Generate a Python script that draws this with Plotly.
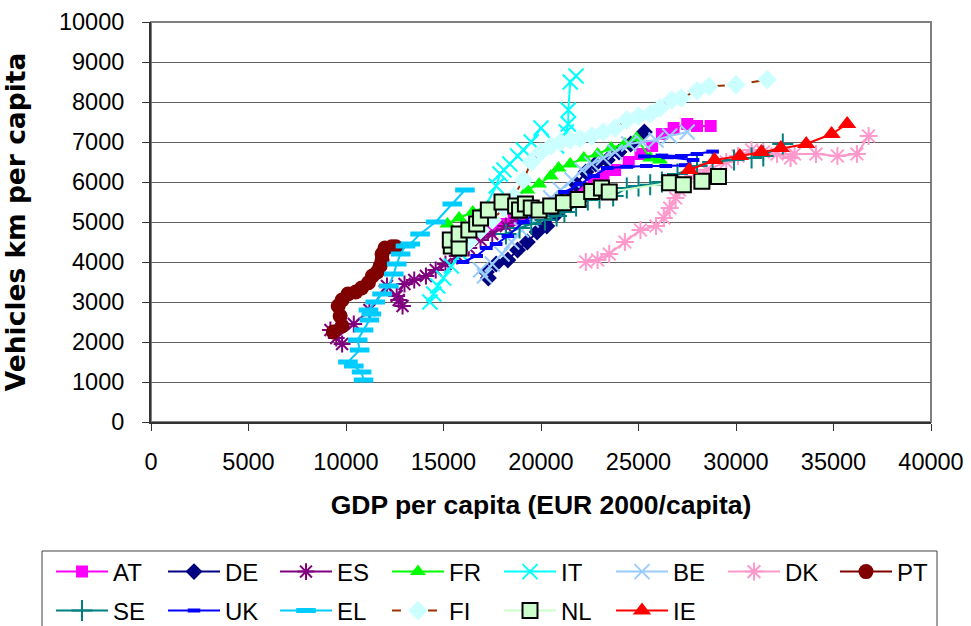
import plotly.graph_objects as go

# GDP per capita (EUR 2000/capita) and vehicle-km per capita, by country
AT_x = [16200, 16800, 17400, 18000, 18600, 19200, 19800, 20400, 21000, 21500, 22100, 22700, 23200, 23800, 24500, 25100, 25700, 26200, 26800, 27500, 28000, 28700]
AT_y = [4550, 4700, 4800, 4950, 5050, 5150, 5300, 5400, 5500, 5650, 5800, 5950, 6150, 6300, 6500, 6700, 6900, 7200, 7350, 7450, 7400, 7400]

DE_x = [17300, 17200, 17700, 18300, 18800, 19300, 19800, 20300, 20800, 21300, 21800, 22300, 22800, 23400, 24000, 24600, 25300]
DE_y = [3600, 3750, 3950, 4050, 4300, 4500, 4750, 4900, 5200, 5600, 5950, 6250, 6450, 6550, 6750, 6950, 7250]

ES_x = [9200, 9800, 9500, 10400, 11200, 12100, 12700, 12900, 12600, 13000, 13500, 14100, 14600, 15100, 15700, 16300, 16900, 17500, 18200, 18800]
ES_y = [2300, 1950, 2100, 2450, 2800, 3400, 3050, 2900, 3150, 3450, 3550, 3650, 3800, 3950, 4150, 4350, 4550, 4700, 4900, 5100]

FR_x = [15200, 15800, 16500, 17300, 18000, 18700, 19300, 19900, 20500, 20900, 21500, 22200, 22900, 23600, 24300, 24900, 25600, 26100]
FR_y = [4950, 5100, 5250, 5400, 5550, 5650, 5800, 5950, 6150, 6350, 6450, 6600, 6700, 6850, 6950, 7100, 6600, 6550]

IT_x = [14300, 14500, 14700, 15000, 15400, 15900, 17700, 17900, 18100, 18400, 18800, 19100, 19500, 20000, 20800, 21300, 21400, 21400, 21500, 21800]
IT_y = [3000, 3200, 3400, 3600, 3900, 4200, 5900, 6200, 6300, 6450, 6650, 6800, 7000, 7350, 6900, 7250, 7450, 7800, 8500, 8650]

BE_x = [16900, 17100, 17500, 18000, 18500, 19000, 19500, 20000, 20500, 21000, 21600, 22100, 22600, 23200, 23800, 24500, 25200, 25900, 26600, 27500]
BE_y = [3800, 3650, 3950, 4200, 4500, 4800, 5050, 5350, 5600, 5800, 6050, 6300, 6450, 6600, 6750, 6950, 7000, 7050, 7150, 7250]

DK_x = [22300, 22900, 23500, 24300, 25100, 25900, 26300, 26600, 26900, 27100, 27400, 27900, 28500, 29500, 30100, 30800, 31400, 32100, 32800, 33000, 34100, 35200, 36200, 36800]
DK_y = [4000, 4050, 4200, 4500, 4800, 4900, 5100, 5350, 5600, 5800, 6000, 6150, 6300, 6500, 6650, 6800, 6750, 6700, 6600, 6700, 6700, 6650, 6700, 7150]

PT_x = [9350, 9800, 9700, 9600, 9800, 10100, 10500, 10800, 11150, 11350, 11600, 11750, 11850, 11850, 12000, 12350, 12550]
PT_y = [2250, 2400, 2650, 2900, 3050, 3200, 3250, 3350, 3480, 3650, 3750, 3900, 4050, 4200, 4350, 4380, 4380]

SE_x = [18200, 18900, 19500, 20200, 20800, 21200, 21800, 22400, 23000, 23700, 24400, 25000, 25600, 26200, 27000, 28000, 28800, 29900, 30800, 31400, 32400]
SE_y = [4700, 4850, 4950, 5050, 5150, 5250, 5400, 5550, 5600, 5650, 5850, 5900, 5930, 6000, 6200, 6400, 6500, 6550, 6600, 6650, 6950]

UK_x = [16000, 16700, 17200, 17700, 18300, 19100, 19800, 20500, 21200, 22000, 22700, 23400, 24400, 25400, 26400, 27400, 27800, 26500, 25300, 26200, 27200, 28000, 28800]
UK_y = [4000, 4150, 4350, 4450, 4650, 5000, 5250, 5500, 5750, 5950, 6150, 6350, 6380, 6400, 6400, 6420, 6550, 6620, 6640, 6660, 6650, 6700, 6760]

EL_x = [10900, 10800, 10400, 10100, 10700, 10600, 10900, 11200, 11300, 11150, 11500, 11850, 12200, 12450, 12600, 12800, 13050, 13300, 13800, 14600, 15450, 16100]
EL_y = [1050, 1250, 1400, 1500, 1800, 2050, 2300, 2550, 2700, 2800, 3000, 3200, 3400, 3700, 3950, 4200, 4400, 4450, 4700, 5000, 5450, 5800]

FI_x = [16300, 16900, 17500, 18100, 18600, 19100, 19500, 20000, 20500, 21000, 21500, 22000, 22600, 23200, 23800, 24400, 25000, 25600, 26100, 26700, 27200, 28000, 28600, 30000, 31600]
FI_y = [4500, 4800, 5050, 5350, 5650, 6050, 6500, 6750, 6900, 7000, 7050, 7080, 7150, 7250, 7350, 7550, 7650, 7700, 7850, 8050, 8100, 8280, 8390, 8430, 8560]

NL_x = [15400, 15350, 15800, 15800, 16300, 16700, 16900, 17300, 18000, 18700, 18900, 19200, 19500, 19900, 20500, 21150, 21900, 22600, 23100, 23500, 26600, 27300, 28250, 29100]
NL_y = [4400, 4550, 4350, 4700, 4800, 4950, 5100, 5300, 5500, 5400, 5300, 5450, 5350, 5300, 5400, 5480, 5560, 5760, 5850, 5750, 5980, 5930, 6020, 6140]

IE_x = [27600, 28900, 30200, 31300, 32300, 33600, 34900, 35700]
IE_y = [6300, 6550, 6650, 6750, 6850, 6950, 7200, 7450]

X_TICKS = [0, 5000, 10000, 15000, 20000, 25000, 30000, 35000, 40000]
Y_TICKS = [0, 1000, 2000, 3000, 4000, 5000, 6000, 7000, 8000, 9000, 10000]

FONT = "Liberation Sans, Arial, sans-serif"

# figure geometry (pixels)
W, H = 971, 626
ML, MR, MT, MB = 151, 40, 22, 204
PW, PH = W - ML - MR, H - MT - MB


def px_to_paper_x(px):
    return (px - ML) / PW


def px_to_paper_y(py):
    return (H - MB - py) / PH


# name, x, y, line colour, marker symbol, marker fill, marker size, marker outline colour, outline width, dash
series = [
    ("AT", AT_x, AT_y, "#FF00FF", "square", "#FF00FF", 12, "#FF00FF", 0, "solid"),
    ("DE", DE_x, DE_y, "#000080", "diamond", "#000080", 13, "#000080", 0, "solid"),
    ("ES", ES_x, ES_y, "#800080", "asterisk-open", "#800080", 14, "#800080", 2, "solid"),
    ("FR", FR_x, FR_y, "#00FF00", "triangle-up", "#00FF00", 14, "#00FF00", 0, "solid"),
    ("IT", IT_x, IT_y, "#00FFFF", "x-thin-open", "#00FFFF", 15, "#00FFFF", 2, "solid"),
    ("BE", BE_x, BE_y, "#99CCFF", "x-thin-open", "#99CCFF", 15, "#99CCFF", 2, "solid"),
    ("DK", DK_x, DK_y, "#FF99CC", "asterisk-open", "#FF99CC", 15, "#FF99CC", 2, "solid"),
    ("PT", PT_x, PT_y, "#800000", "circle", "#800000", 15, "#800000", 0, "solid"),
    ("SE", SE_x, SE_y, "#008080", "cross-thin-open", "#008080", 15, "#008080", 2, "solid"),
    ("UK", UK_x, UK_y, "#0000FF", "line-ew-open", "#0000FF", 9, "#0000FF", 4, "solid"),
    ("EL", EL_x, EL_y, "#00CCFF", "line-ew-open", "#00CCFF", 14, "#00CCFF", 5, "solid"),
    ("FI", FI_x, FI_y, "#993300", "diamond", "#CCFFFF", 15, "#CCFFFF", 0, "dash"),
    ("NL", NL_x, NL_y, "#CCFFCC", "square", "#CCFFCC", 15, "#000000", 2, "solid"),
    ("IE", IE_x, IE_y, "#FF0000", "triangle-up", "#FF0000", 16, "#FF0000", 0, "solid"),
]

# legend grid: 8 entries per row, fixed column pitch
LEG_X0, LEG_PITCH = 51, 112
LEG_ROWS = [572, 611]

fig = go.Figure()
legends = {}
for i, (name, xs, ys, lc, sym, fill, size, oc, ow, dash) in enumerate(series):
    key = "legend" if i == 0 else f"legend{i + 1}"
    row, col = divmod(i, 8)
    legends[key] = dict(
        x=px_to_paper_x(LEG_X0 + col * LEG_PITCH), xanchor="left",
        y=px_to_paper_y(LEG_ROWS[row]), yanchor="middle",
        orientation="h", bgcolor="rgba(0,0,0,0)", borderwidth=0,
        font=dict(family=FONT, size=24, color="black"),
        itemwidth=52,
    )
    fig.add_trace(go.Scatter(
        x=xs, y=ys, name=name, mode="lines+markers", legend=key,
        line=dict(color=lc, width=2, dash=dash),
        marker=dict(symbol=sym, color=fill, size=size,
                    line=dict(color=oc, width=ow)),
    ))

# plot-area frame
fig.add_shape(type="rect", xref="paper", yref="paper", x0=0, y0=0, x1=1, y1=1,
              line=dict(color="#808080", width=2), layer="below")

# legend frame (runs off the bottom edge of the figure)
fig.add_shape(type="rect", xref="paper", yref="paper",
              x0=px_to_paper_x(42), x1=px_to_paper_x(937),
              y0=px_to_paper_y(660), y1=px_to_paper_y(551),
              line=dict(color="#404040", width=1), layer="above")

fig.update_layout(
    width=W, height=H,
    margin=dict(l=ML, r=MR, t=MT, b=MB, autoexpand=False),
    paper_bgcolor="white", plot_bgcolor="white",
    font=dict(family=FONT, size=23, color="black"),
    showlegend=True,
    **legends,
)

fig.update_xaxes(
    range=[0, 40000], tickvals=X_TICKS, ticktext=[str(v) for v in X_TICKS],
    showgrid=False, zeroline=False, automargin=False,
    showline=True, linecolor="#333333", linewidth=2,
    ticks="outside", ticklen=7, tickcolor="#333333", tickwidth=1,
    ticklabelstandoff=11,
    tickfont=dict(family=FONT, size=23.5),
    title=dict(text="<b>GDP per capita (EUR 2000/capita)</b>", standoff=21,
               font=dict(family=FONT, size=26.5)),
)
fig.update_yaxes(
    range=[0, 10000], tickvals=Y_TICKS, ticktext=[str(v) for v in Y_TICKS],
    showgrid=True, gridcolor="#606060", gridwidth=1, zeroline=False, automargin=False,
    showline=True, linecolor="#333333", linewidth=2,
    ticks="outside", ticklen=7, tickcolor="#333333", tickwidth=1,
    ticklabelstandoff=13,
    tickfont=dict(family=FONT, size=23.5),
    title=dict(text="<b>Vehicles km per capita</b>", standoff=26,
               font=dict(family="DejaVu Sans, sans-serif", size=26.5)),
)

fig.write_html("out.html")
